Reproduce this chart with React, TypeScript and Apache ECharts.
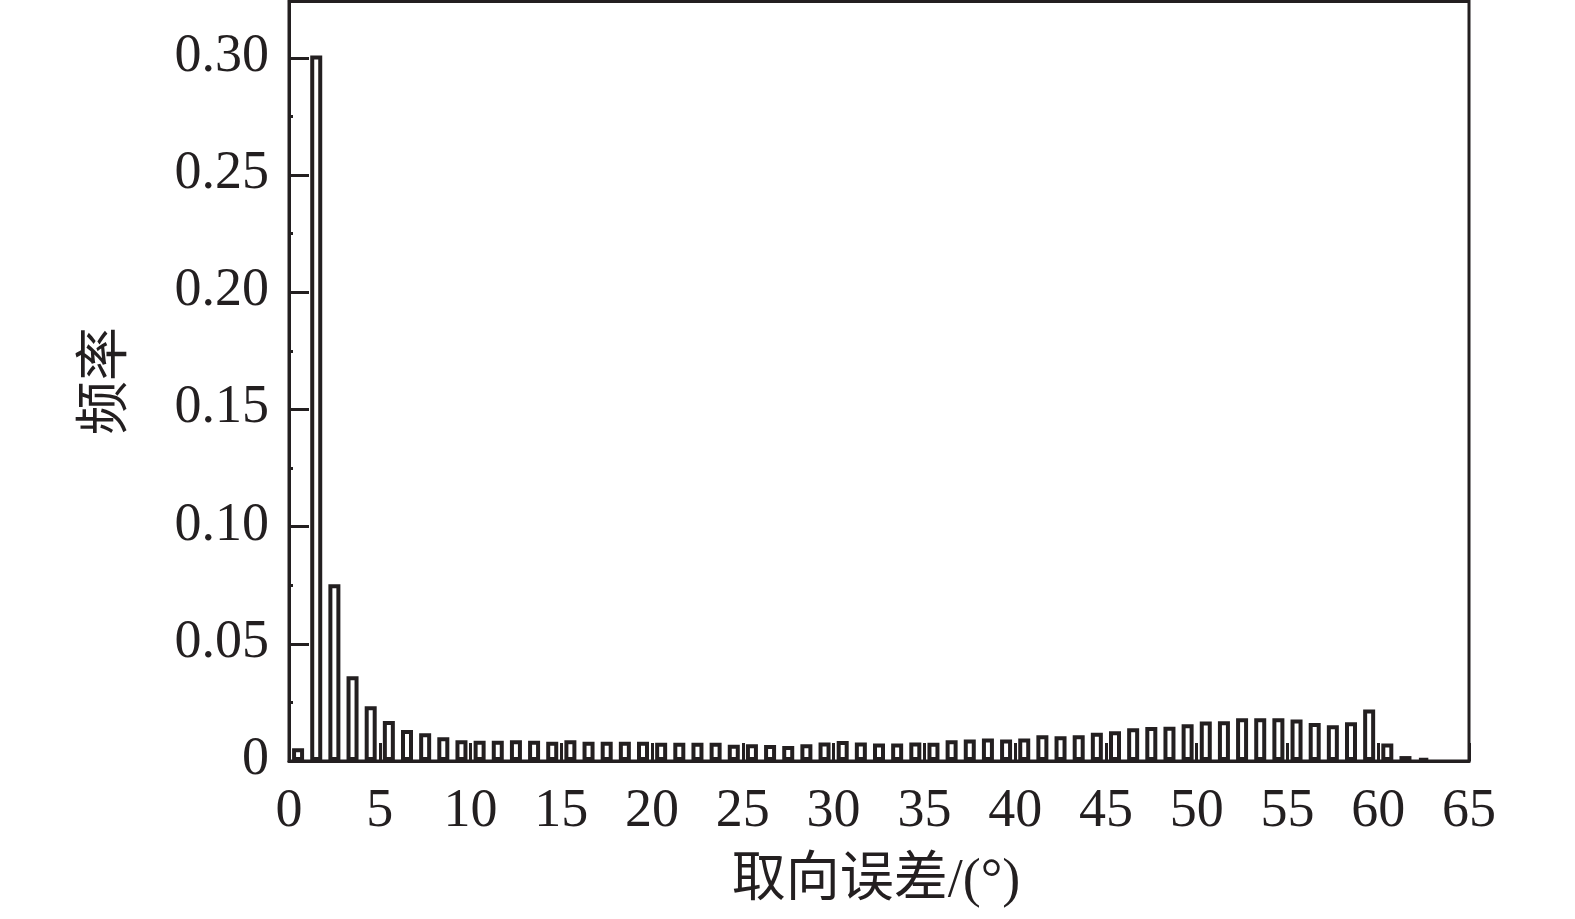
import React, { useEffect, useRef } from "react";
import * as echarts from "echarts";

// Orientation error bins (degrees), 1° wide, starting at 0
const binStart: number[] = Array.from({ length: 63 }, (_, i) => i);
// Frequency for each bin
const frequency: number[] = [
  0.0054, 0.3010, 0.0754, 0.0362, 0.0234, 0.0171, 0.0132, 0.0118, 0.0101, 0.0089,
  0.0086, 0.0086, 0.0089, 0.0086, 0.0082, 0.0089, 0.0082, 0.0082, 0.0082, 0.0082,
  0.0078, 0.0078, 0.0078, 0.0078, 0.0069, 0.0071, 0.0068, 0.0064, 0.0071, 0.0079,
  0.0085, 0.0079, 0.0075, 0.0075, 0.0079, 0.0078, 0.0089, 0.0092, 0.0096, 0.0092,
  0.0096, 0.0110, 0.0106, 0.0110, 0.0120, 0.0127, 0.0140, 0.0145, 0.0146, 0.0157,
  0.0169, 0.0170, 0.0182, 0.0182, 0.0182, 0.0177, 0.0162, 0.0152, 0.0165, 0.0220,
  0.0075, 0.0021, 0.0011,
];
const xTicks: number[] = [0, 5, 10, 15, 20, 25, 30, 35, 40, 45, 50, 55, 60, 65];
const yTicks: number[] = [0, 0.05, 0.1, 0.15, 0.2, 0.25, 0.3];
const xName = "取向误差/(°)";
const yName = "频率";

const INK = "#231f20";
const FONT = "'Liberation Serif', 'Times New Roman', 'Noto Sans CJK SC', serif";

export default function App() {
  const ref = useRef<HTMLDivElement>(null);
  useEffect(() => {
    if (!ref.current) return;
    const chart = echarts.init(ref.current, undefined, { renderer: "svg" });
    const seriesData = binStart.map((b, i) => [b + 0.5, frequency[i]]);
    chart.setOption({
      animation: false,
      backgroundColor: "#ffffff",
      grid: {
        left: 289,
        right: 106,
        top: 1.5,
        bottom: 158,
        show: true,
        borderColor: INK,
        borderWidth: 3,
        backgroundColor: "transparent",
      },
      xAxis: {
        type: "value",
        min: xTicks[0],
        max: xTicks[xTicks.length - 1],
        interval: 5,
        axisLine: { show: true, onZero: false, lineStyle: { color: INK, width: 3 } },
        axisTick: { show: true, inside: true, length: 18, lineStyle: { color: INK, width: 3 } },
        axisLabel: {
          margin: 20,
          color: INK,
          fontFamily: FONT,
          fontSize: 54,
          formatter: (v: number) => String(v),
        },
        splitLine: { show: false },
      },
      yAxis: {
        type: "value",
        min: 0,
        max: 0.324,
        interval: 0.05,
        axisLine: { show: true, onZero: false, lineStyle: { color: INK, width: 3 } },
        axisTick: { show: true, inside: true, length: 20, lineStyle: { color: INK, width: 3 } },
        minorTick: { show: true, splitNumber: 2, length: 4, lineStyle: { color: INK, width: 3 } },
        axisLabel: {
          margin: 20,
          color: INK,
          fontFamily: FONT,
          fontSize: 54,
          showMaxLabel: false,
          formatter: (v: number) => {
            const hit = yTicks.find((t) => Math.abs(t - v) < 1e-9);
            if (hit === undefined) return "";
            return `{v|${hit === 0 ? "0" : hit.toFixed(2)}}`;
          },
          rich: {
            v: {
              color: INK,
              fontFamily: FONT,
              fontSize: 54,
              padding: [0, 0, 10, 0],
            },
          },
        },
        splitLine: { show: false },
      },
      series: [
        {
          type: "bar",
          data: seriesData,
          barWidth: 12,
          itemStyle: { color: "#ffffff", borderColor: INK, borderWidth: 4 },
          z: 1,
        },
      ],
      graphic: [
        {
          type: "text",
          x: 104,
          y: 381,
          rotation: Math.PI / 2,
          style: {
            text: yName,
            fill: INK,
            font: `54px ${FONT}`,
            textAlign: "center",
            textVerticalAlign: "middle",
          },
        },
        {
          type: "text",
          x: 876,
          y: 878,
          style: {
            text: xName,
            fill: INK,
            font: `54px ${FONT}`,
            textAlign: "center",
            textVerticalAlign: "middle",
          },
        },
      ],
    });
    return () => chart.dispose();
  }, []);
  return (
    <div
      ref={ref}
      style={{ position: "fixed", left: 0, top: 0, width: 1575, height: 919, background: "#fff" }}
    />
  );
}
